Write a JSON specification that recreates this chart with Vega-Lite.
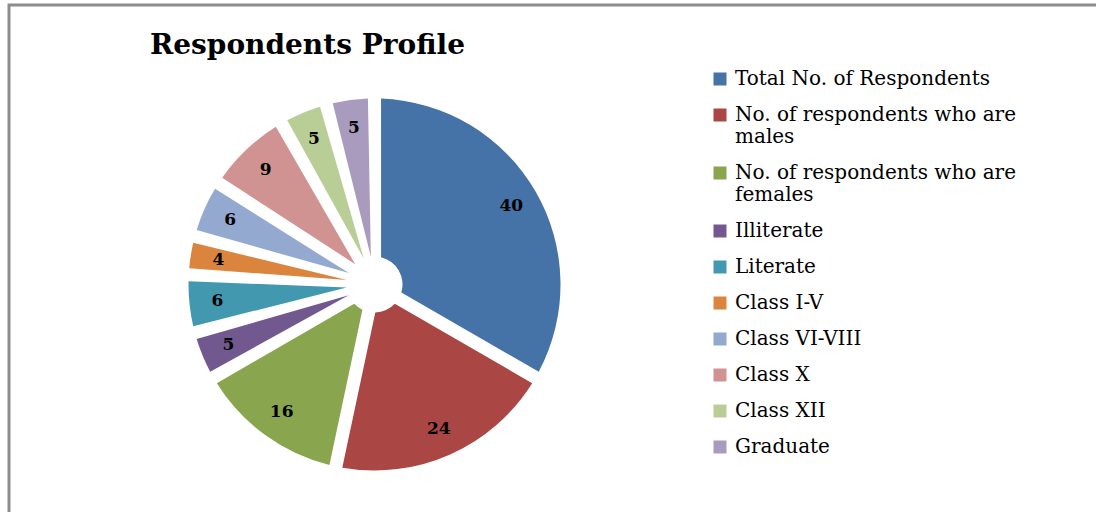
{
  "$schema": "https://vega.github.io/schema/vega-lite/v6.json",
  "width": 1096,
  "height": 512,
  "autosize": {"type": "fit", "contains": "padding"},
  "padding": {"left": 9, "top": 5, "right": 0, "bottom": 0},
  "background": "white",
  "view": {"stroke": "#8c8c8c", "strokeWidth": 3, "strokeDash": [1087, 1594, 507]},
  "config": {
    "view": {"stroke": "#8c8c8c", "strokeWidth": 3, "strokeDash": [1087, 1594, 507]},
    "font": "DejaVu Serif"
  },
  "title": {
    "text": "Respondents Profile",
    "font": "DejaVu Serif",
    "fontSize": 28,
    "fontWeight": "bold",
    "color": "black",
    "anchor": "start",
    "frame": "group",
    "dx": 141,
    "dy": 25,
    "offset": -52,
    "baseline": "alphabetic"
  },
  "data": {
    "values": [
      {"category": "Total No. of Respondents", "count": 40},
      {"category": "No. of respondents who are males", "count": 24},
      {"category": "No. of respondents who are females", "count": 16},
      {"category": "Illiterate", "count": 5},
      {"category": "Literate", "count": 6},
      {"category": "Class I-V", "count": 4},
      {"category": "Class VI-VIII", "count": 6},
      {"category": "Class X", "count": 9},
      {"category": "Class XII", "count": 5},
      {"category": "Graduate", "count": 5}
    ]
  },
  "transform": [{"window": [{"op": "row_number", "as": "idx"}]}],
  "encoding": {
    "theta": {"field": "count", "type": "quantitative", "stack": true},
    "order": {"field": "idx", "type": "quantitative", "sort": "ascending"},
    "color": {
      "field": "category",
      "type": "nominal",
      "sort": ["Total No. of Respondents", "No. of respondents who are males", "No. of respondents who are females", "Illiterate", "Literate", "Class I-V", "Class VI-VIII", "Class X", "Class XII", "Graduate"],
      "scale": {
        "domain": ["Total No. of Respondents", "No. of respondents who are males", "No. of respondents who are females", "Illiterate", "Literate", "Class I-V", "Class VI-VIII", "Class X", "Class XII", "Graduate"],
        "range": ["#4572A7", "#AA4643", "#89A54E", "#71588F", "#4198AF", "#DB843D", "#93A9CF", "#D19392", "#B9CD96", "#A99BBD"]
      },
      "legend": {
        "title": null,
        "orient": "none",
        "legendX": 701,
        "legendY": 64,
        "symbolType": "square",
        "symbolSize": 169,
        "symbolStrokeWidth": 0,
        "labelFont": "DejaVu Serif",
        "labelFontSize": 20,
        "labelColor": "black",
        "labelLimit": 500,
        "labelOffset": 5,
        "rowPadding": 16,
        "labelExpr": "datum.label == 'No. of respondents who are males' ? ['No. of respondents who are', 'males'] : datum.label == 'No. of respondents who are females' ? ['No. of respondents who are', 'females'] : datum.label"
      }
    }
  },
  "layer": [
    {
      "mark": {"type": "arc", "outerRadius": 186, "innerRadius": 28, "padAngle": 0.07, "xOffset": -178, "yOffset": 26}
    },
    {
      "mark": {"type": "text", "radius": 158, "font": "DejaVu Serif", "fontSize": 17, "fontWeight": "bold", "xOffset": -178, "yOffset": 26},
      "encoding": {
        "text": {"field": "count", "type": "quantitative"},
        "color": {"value": "black"}
      }
    }
  ]
}
